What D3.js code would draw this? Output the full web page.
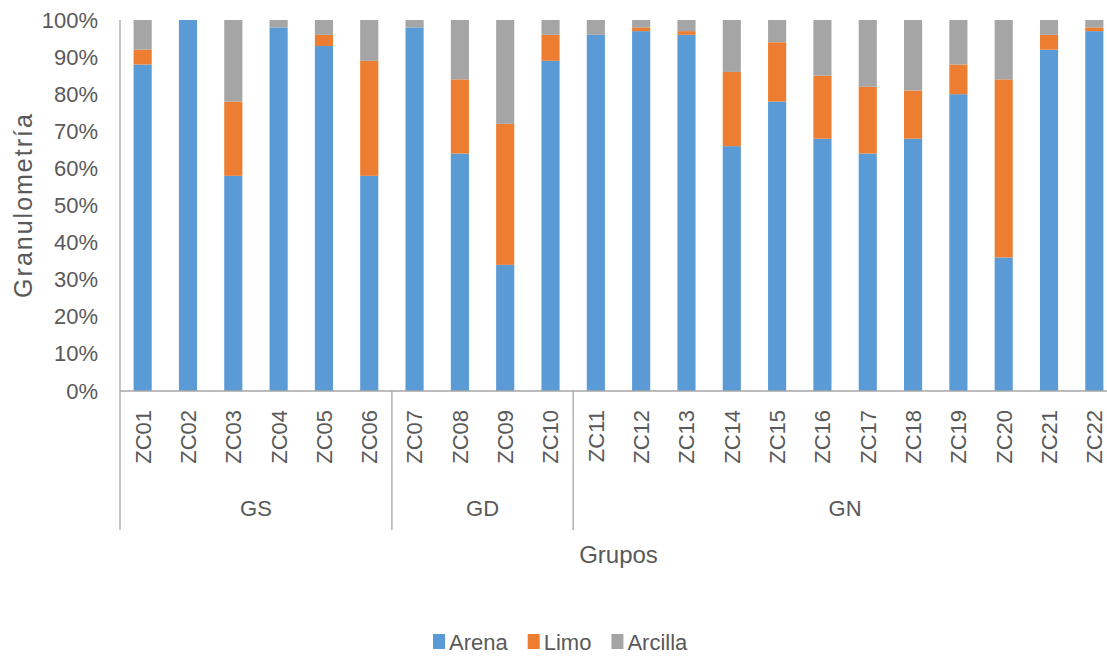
<!DOCTYPE html>
<html>
<head>
<meta charset="utf-8">
<script src="https://cdn.jsdelivr.net/npm/d3@7"></script>
<style>
  body { margin: 0; background: #fff; }
  svg text { font-family: "Liberation Sans", Arial, sans-serif; fill: #595959; }
</style>
</head>
<body>
<svg id="chart" width="1107" height="656"></svg>
<script>
// sample codes and their group
const categories = ["ZC01","ZC02","ZC03","ZC04","ZC05","ZC06","ZC07","ZC08","ZC09","ZC10","ZC11",
                    "ZC12","ZC13","ZC14","ZC15","ZC16","ZC17","ZC18","ZC19","ZC20","ZC21","ZC22"]
const groups = [
  {name: "GS", from: 0, to: 6},
  {name: "GD", from: 6, to: 10},
  {name: "GN", from: 10, to: 22}
]
// percentages
const arena   = [88,100,58,98,93,58,98,64,34,89,96,97,96,66,78,68,64,68,80,36,92,97]
const limo    = [ 4,  0,20, 0, 3,31, 0,20,38, 7, 0, 1, 1,20,16,17,18,13, 8,48, 4, 1]
const arcilla = [ 8,  0,22, 2, 4,11, 2,16,28, 4, 4, 2, 3,14, 6,15,18,19,12,16, 4, 2]
const seriesNames = ["Arena","Limo","Arcilla"]
const colors = ["#5b9bd5","#ed7d31","#a5a5a5"]
const yTicks = [0,10,20,30,40,50,60,70,80,90,100]

const rows = categories.map(function(c, i) {
  return {cat: c, Arena: arena[i], Limo: limo[i], Arcilla: arcilla[i]}
})

const svg = d3.select("#chart")
const plotLeft = 120, plotRight = 1117, plotTop = 20, plotBottom = 391

const x = d3.scaleBand()
  .domain(categories)
  .range([plotLeft, plotRight])
  .paddingInner(0.6)
  .paddingOuter(0.3)

const y = d3.scaleLinear()
  .domain([0, 100])
  .range([plotBottom, plotTop])

const stacked = d3.stack().keys(seriesNames)(rows)

svg.append("g")
  .selectAll("g")
  .data(stacked)
  .enter().append("g")
    .attr("fill", function(d, i) { return colors[i] })
  .selectAll("rect")
  .data(function(d) { return d })
  .enter().append("rect")
    .attr("x", function(d) { return x(d.data.cat) })
    .attr("y", function(d) { return y(d[1]) })
    .attr("width", x.bandwidth())
    .attr("height", function(d) { return y(d[0]) - y(d[1]) })

// y axis labels
const yAxis = d3.axisLeft(y)
  .tickValues(yTicks)
  .tickSize(0)
  .tickPadding(22)
  .tickFormat(function(d) { return d + "%" })

svg.append("g")
  .attr("transform", "translate(" + plotLeft + ",0)")
  .call(yAxis)
  .call(function(g) { g.select(".domain").remove() })
  .selectAll("text")
    .style("font-size", "22px")
    .style("font-family", "Liberation Sans, Arial, sans-serif")
    .attr("fill", "#595959")

const lineColor = "#a6a6a6"

// axis lines
svg.append("line")
  .attr("x1", plotLeft).attr("x2", plotLeft)
  .attr("y1", plotTop).attr("y2", 530)
  .attr("stroke", lineColor).attr("stroke-width", 1.3)

svg.append("line")
  .attr("x1", plotLeft).attr("x2", 1107)
  .attr("y1", plotBottom).attr("y2", plotBottom)
  .attr("stroke", lineColor).attr("stroke-width", 1.3)

// category labels
svg.append("g")
  .selectAll("text")
  .data(categories)
  .enter().append("text")
    .attr("transform", function(d) { return "translate(" + (x(d) + x.bandwidth() / 2) + ",410) rotate(-90)" })
    .attr("text-anchor", "end")
    .attr("dy", "0.36em")
    .style("font-size", "22px")
    .text(function(d) { return d })

// group separators and labels
const step = x.step()
const groupEdge = function(i) { return plotLeft + i * step }

svg.append("g")
  .selectAll("line")
  .data(groups.slice(1))
  .enter().append("line")
    .attr("x1", function(d) { return groupEdge(d.from) })
    .attr("x2", function(d) { return groupEdge(d.from) })
    .attr("y1", plotBottom).attr("y2", 530)
    .attr("stroke", lineColor).attr("stroke-width", 1.3)

svg.append("g")
  .selectAll("text")
  .data(groups)
  .enter().append("text")
    .attr("x", function(d) { return (groupEdge(d.from) + groupEdge(d.to)) / 2 })
    .attr("y", 516)
    .attr("text-anchor", "middle")
    .style("font-size", "22px")
    .text(function(d) { return d.name })

// axis titles
svg.append("text")
  .attr("x", (plotLeft + plotRight) / 2)
  .attr("y", 563)
  .attr("text-anchor", "middle")
  .style("font-size", "24px")
  .text("Grupos")

svg.append("text")
  .attr("transform", "translate(32,205) rotate(-90)")
  .attr("text-anchor", "middle")
  .style("font-size", "25px")
  .style("letter-spacing", "2px")
  .text("Granulometría")

// legend
const legend = svg.append("g")
let lx = 433
seriesNames.forEach(function(name, i) {
  legend.append("rect")
    .attr("x", lx).attr("y", 634)
    .attr("width", 12).attr("height", 15)
    .attr("fill", colors[i])
  const t = legend.append("text")
    .attr("x", lx + 16).attr("y", 650)
    .style("font-size", "22px")
    .text(name)
  lx += 16 + t.node().getComputedTextLength() + 20
})
</script>
</body>
</html>
